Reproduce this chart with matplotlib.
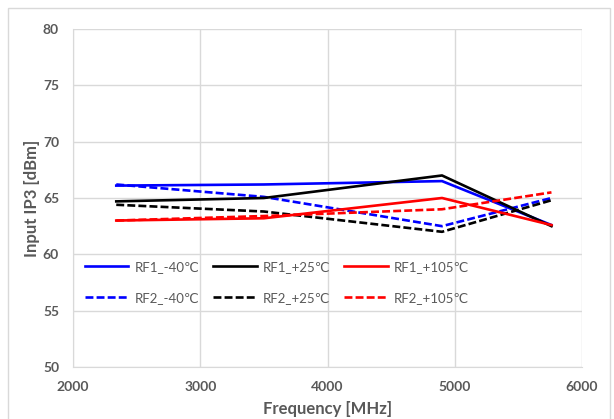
import matplotlib.pyplot as plt
from matplotlib.patches import Rectangle

freq = [2340, 3500, 4900, 5760]

rf1_m40 = [66.1, 66.2, 66.5, 62.6]
rf1_p25 = [64.7, 65.0, 67.0, 62.5]
rf1_p105 = [63.0, 63.2, 65.0, 62.6]
rf2_m40 = [66.2, 65.1, 62.5, 65.0]
rf2_p25 = [64.4, 63.8, 62.0, 64.8]
rf2_p105 = [63.0, 63.4, 64.0, 65.5]

labels = ['RF1_-40℃', 'RF2_-40℃', 'RF1_+25℃', 'RF2_+25℃', 'RF1_+105℃', 'RF2_+105℃']

plt.rcParams['font.family'] = ['Lato', 'DejaVu Sans']
gray = '#595959'

fig = plt.figure(figsize=(6.14, 4.19), dpi=100)
fig.patches.append(Rectangle((8 / 614, -0.05), 602 / 614, 1 - 8 / 419 + 0.05,
                             transform=fig.transFigure, fill=False,
                             edgecolor='#d9d9d9', linewidth=1))
ax = fig.add_axes([73 / 614, 1 - 367 / 419, 509 / 614, 338 / 419])

dash = (3, 1.2)
ax.plot(freq, rf1_m40, color='#0000ff', lw=1.9, label=labels[0])
ax.plot(freq, rf2_m40, color='#0000ff', lw=1.9, ls=(0, dash), label=labels[1])
ax.plot(freq, rf1_p25, color='#000000', lw=1.9, label=labels[2])
ax.plot(freq, rf2_p25, color='#000000', lw=1.9, ls=(0, dash), label=labels[3])
ax.plot(freq, rf1_p105, color='#ff0000', lw=1.9, label=labels[4])
ax.plot(freq, rf2_p105, color='#ff0000', lw=1.9, ls=(0, dash), label=labels[5])

ax.set_xlim(2000, 6000)
ax.set_ylim(50, 80)
ax.set_xticks([2000, 3000, 4000, 5000, 6000])
ax.set_yticks([50, 55, 60, 65, 70, 75, 80])
ax.grid(True, color='#d9d9d9', lw=1)
ax.set_axisbelow(True)
for s in ['top', 'right']:
    ax.spines[s].set_visible(False)
for s in ['left', 'bottom']:
    ax.spines[s].set_color('#d9d9d9')
ax.tick_params(length=0, labelsize=10, colors=gray, pad=10)
for t in ax.get_xticklabels() + ax.get_yticklabels():
    t.set_fontweight('bold')

ax.set_xlabel('Frequency [MHz]', fontsize=12, fontweight='bold', color=gray, labelpad=6)
ax.set_ylabel('Input IP3 [dBm]', fontsize=12, fontweight='bold', color=gray, labelpad=2)

leg = ax.legend(ncol=3, frameon=False, loc='upper left',
                bbox_to_anchor=(0.0, 0.35), fontsize=9.5,
                handlelength=3.3, handletextpad=0.5, columnspacing=1.0,
                labelspacing=1.45)
for t in leg.get_texts():
    t.set_color(gray)

fig.savefig('out.png', dpi=100)
